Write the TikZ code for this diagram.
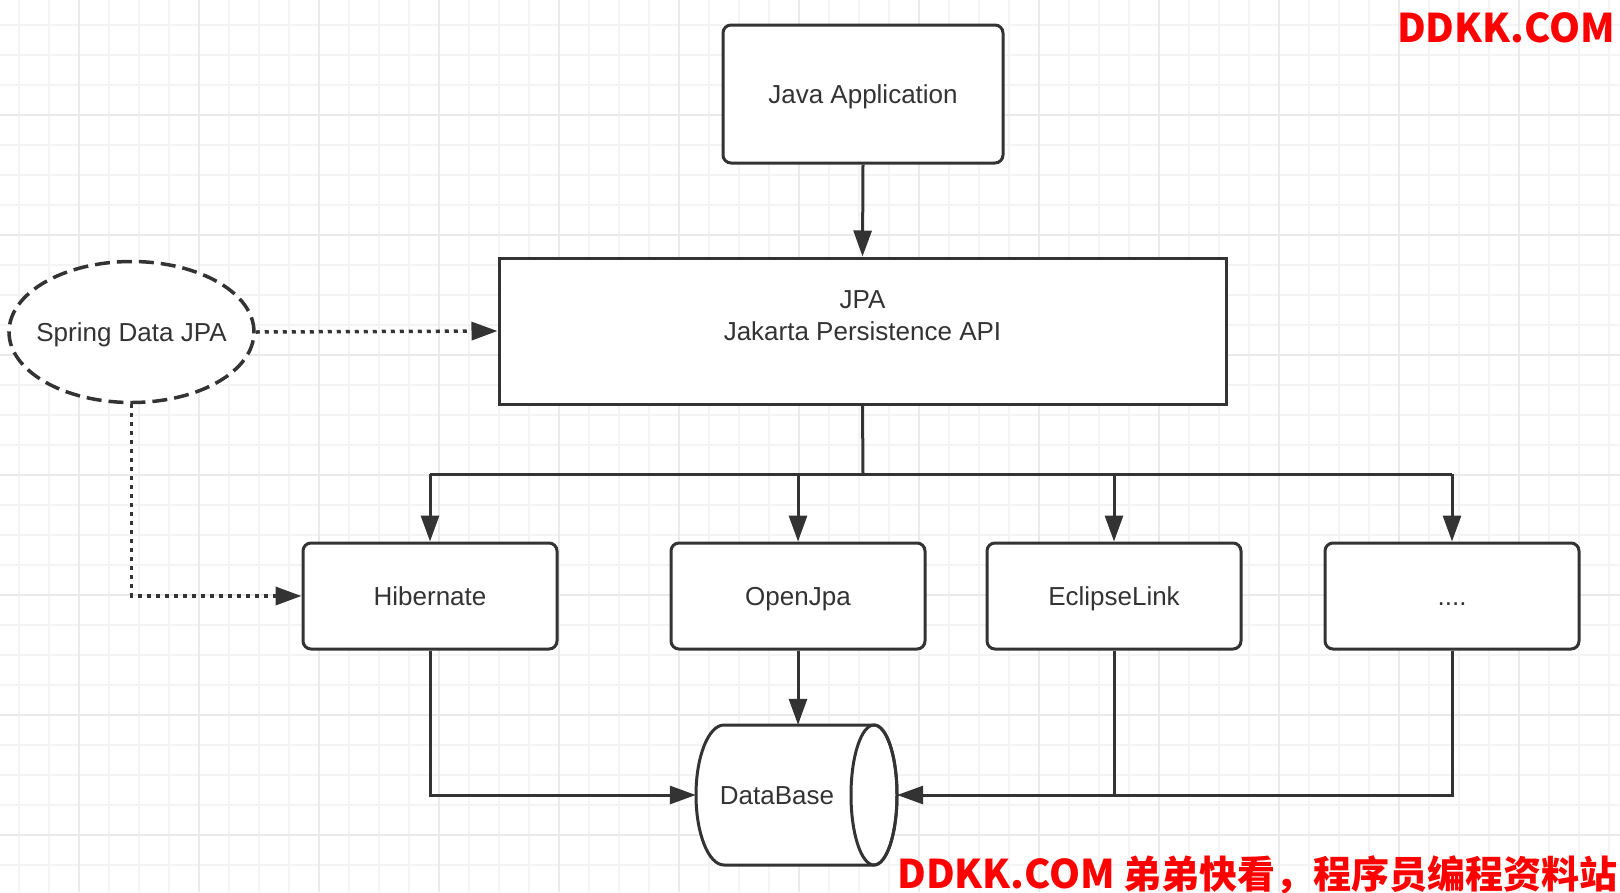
\documentclass[tikz,border=0pt]{standalone}
\usepackage{fontspec}
\setmainfont{Liberation Sans}
\newfontfamily\cjk{Noto Sans CJK SC}
\usetikzlibrary{arrows.meta,shapes.geometric}
\definecolor{ink}{HTML}{333333}
\definecolor{gridminor}{HTML}{F4F4F4}
\definecolor{gridmajor}{HTML}{EAEAEA}
\definecolor{wred}{HTML}{FF0000}
\begin{document}
\begin{tikzpicture}[x=1pt,y=-1pt,
  txt/.style={font=\fontsize{26}{32}\selectfont, text=ink, inner sep=0pt,
    text height=18.6pt, text depth=0pt},
  box/.style={draw=ink, line width=3pt, fill=white, rounded corners=8pt,
    minimum width=254pt, minimum height=106pt, inner sep=0pt, txt},
  conn/.style={draw=ink, line width=3pt, -{Triangle[length=26pt,width=18pt]}},
  plain/.style={draw=ink, line width=3pt},
  dotconn/.style={draw=ink, line width=3.5pt, dash pattern=on 4pt off 5pt,
    -{Triangle[length=26pt,width=18pt]}},
  wmark/.style={font=\cjk\bfseries\fontsize{38}{40}\selectfont, text=wred, inner sep=0pt}
]
\useasboundingbox[fill=white] (0,0) rectangle (1620,892);
% grid
\foreach \x in {19,49,...,1609} \draw[gridminor, line width=2pt] (\x,0) -- (\x,892);
\foreach \y in {25,55,...,865} \draw[gridminor, line width=2pt] (0,\y) -- (1620,\y);
\foreach \x in {79,199,...,1519} \draw[gridmajor, line width=2pt] (\x,0) -- (\x,892);
\foreach \y in {115,235,...,835} \draw[gridmajor, line width=2pt] (0,\y) -- (1620,\y);

% nodes
\node[box, minimum width=280pt, minimum height=138pt] (java) at (863,94) {Java Application};
\node[box, rounded corners=0pt, minimum width=727pt, minimum height=146pt] (jpa) at (862.5,331) {};
\node[font=\fontsize{26}{32}\selectfont, text=ink, inner sep=0pt, align=center] (jpatext) at (862.5,316) {JPA\\Jakarta Persistence API};
\node[ellipse, draw=ink, line width=3.5pt, dash pattern=on 15pt off 7pt, fill=white,
  minimum width=245pt, minimum height=141pt, inner sep=0pt] (spring) at (131.5,332) {};
\node[txt] (springtext) at (131.5,332) {Spring Data JPA};

\node[box] (hib) at (430,596) {Hibernate};
\node[box] (open) at (798,596) {OpenJpa};
\node[box] (ecl) at (1114,596) {EclipseLink};
\node[box] (dots) at (1452,596) {....};

\coordinate (bus) at (863,474);

% database cylinder
\node[minimum width=201pt, minimum height=140pt, inner sep=0pt] (db) at (796.5,795) {};
\draw[ink, line width=3pt, fill=white]
  (874,725) -- (724,725)
  arc[start angle=270, end angle=90, x radius=28, y radius=70]
  -- (874,865)
  arc[start angle=90, end angle=-90, x radius=23, y radius=70] -- cycle;
\draw[ink, line width=3pt] (874,795) ellipse[x radius=23, y radius=70];
\node[txt] (dbtext) at (777,795) {DataBase};

% connectors
\draw[conn] (java.south) -- (jpa.north);
\draw[plain] (jpa.south) -- (bus);
\draw[plain] (hib.north |- bus) -- (dots.north |- bus);
\draw[conn] (hib.north |- bus) -- (hib.north);
\draw[conn] (open.north |- bus) -- (open.north);
\draw[conn] (ecl.north |- bus) -- (ecl.north);
\draw[conn] (dots.north |- bus) -- (dots.north);

\draw[conn] (open.south) -- (open.south |- db.north);
\draw[conn] (hib.south) |- (db.west);
\draw[conn] (dots.south) |- (db.east);
\draw[plain] (ecl.south) -- (ecl.south |- db.east);

\draw[dotconn] (spring.east) -- (jpa.west);
\draw[dotconn] (spring.south) |- (hib.west);

% watermarks
\node[wmark, anchor=base east] (wm1) at (1615,42) {\fontsize{39.5}{40}\selectfont DDKK.COM};
\node[wmark, anchor=base east] (wm2) at (1618,888) {{\fontsize{39.5}{40}\selectfont DDKK.COM} 弟弟快看，程序员编程资料站};
\end{tikzpicture}
\end{document}
